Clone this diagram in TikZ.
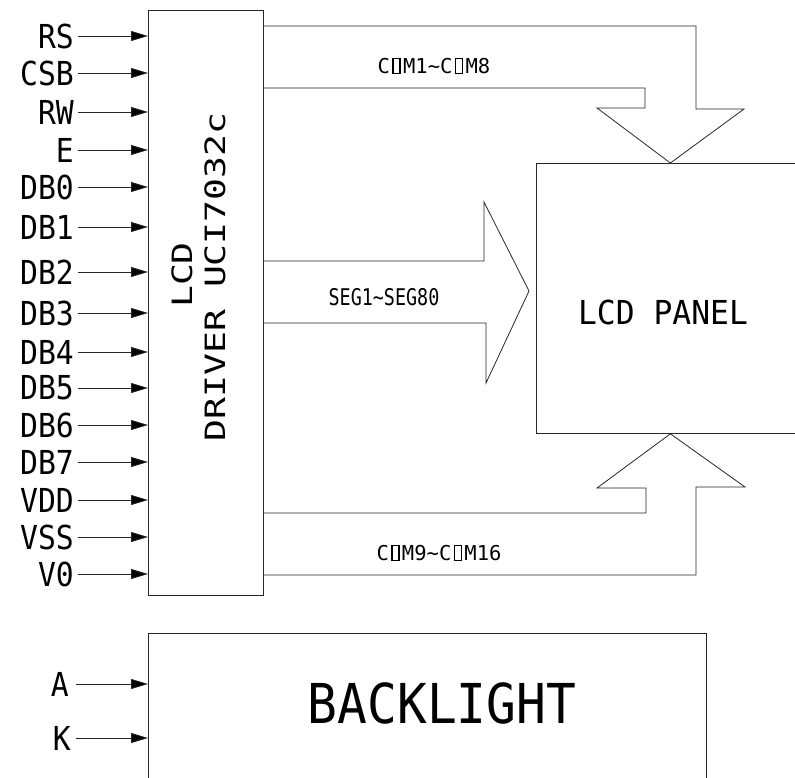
\documentclass[tikz,border=0pt]{standalone}
\usepackage{fontspec}
\setmainfont{DejaVu Sans Mono}
\usetikzlibrary{arrows.meta}
\newcommand\cadf[2]{\fontsize{#1}{#1}\selectfont\addfontfeature{FakeStretch=#2}}
\newcommand\obx{\kern0.12em{\fboxsep=0pt\fboxrule=0.06em\fbox{\rule{0pt}{0.7em}\hspace{0.28em}}}\kern0.12em}
\tikzset{
  ln/.style={line width=0.8pt, draw=black!85},
  inarr/.style={ln, -{Triangle[length=17pt,width=10pt,fill=black]}},
  lab/.style={inner sep=0pt, anchor=east, font=\cadf{33}{0.9}},
  boxn/.style={ln, draw, inner sep=0pt, anchor=north west},
  txt/.style={inner sep=0pt}
}
\begin{document}
\begin{tikzpicture}[x=1pt,y=-1pt]
\useasboundingbox (0,0) rectangle (795,778);
% driver box
\node[boxn, minimum width=115pt, minimum height=585pt] (drv) at (148,10) {};
\node[txt, rotate=90, font=\cadf{28}{1.3}] (drvA) at (182,275) {LCD};
\node[txt, rotate=90, font=\cadf{28}{1.3}] (drvB) at (215,277) {DRIVER UCI7032c};
% inputs
\foreach \n/\t/\y in {rs/RS/36, csb/CSB/73, rw/RW/112, e/E/150, db0/DB0/187, db1/DB1/227,
  db2/DB2/272, db3/DB3/313, db4/DB4/352, db5/DB5/388, db6/DB6/425, db7/DB7/462,
  vdd/VDD/500, vss/VSS/537, vo/V0/574}{
  \node[lab] (l\n) at (74,\y) {\t};
  \coordinate (s\n) at (78,\y);
  \draw[inarr] (s\n) -- (s\n -| drv.west);
}
% LCD panel
\node[boxn, minimum width=268pt, minimum height=270pt] (panel) at (536,163) {};
\node[txt, font=\cadf{33}{0.95}] (ptxt) at (663,312) {LCD PANEL};
% COM1~COM8 arrow
\coordinate (c1a) at (263,26);
\coordinate (c1b) at (696,109);
\coordinate (c1c) at (744,109);
\coordinate (c1d) at (597,108);
\coordinate (c1e) at (645,108);
\coordinate (c1f) at (263,88);
\draw[ln] (c1a) -| (c1b) -- (c1c) -- (panel.north) -- (c1d) -- (c1e) |- (c1f);
\node[txt, font=\cadf{20.5}{1.0}] (com1) at (434,66) {C\obx M1\char`\~C\obx M8};
% SEG arrow
\coordinate (sa) at (263,261);
\coordinate (sb) at (484,261);
\coordinate (sc) at (484,202);
\coordinate (sd) at (529,291);
\coordinate (se) at (486,383);
\coordinate (sf) at (486,323);
\coordinate (sg) at (263,323);
\draw[ln] (sa) -- (sb) -- (sc) -- (sd) -- (se) -- (sf) -- (sg);
\node[txt, font=\cadf{23}{0.8}] (seg) at (384,297) {SEG1\char`\~SEG80};
% COM9~COM16 arrow
\coordinate (c2a) at (263,575);
\coordinate (c2b) at (696,487);
\coordinate (c2c) at (745,487);
\coordinate (c2d) at (597,488);
\coordinate (c2e) at (646,488);
\coordinate (c2f) at (263,513);
\draw[ln] (c2a) -| (c2b) -- (c2c) -- (panel.south) -- (c2d) -- (c2e) |- (c2f);
\node[txt, font=\cadf{20.5}{1.0}] (com2) at (439,553) {C\obx M9\char`\~C\obx M16};
% backlight
\node[boxn, minimum width=558pt, minimum height=160pt] (bl) at (148,633) {};
\node[txt, font=\cadf{55}{0.9}] (bltxt) at (442,703) {BACKLIGHT};
\node[lab] (la) at (69,684) {A};
\node[lab] (lk) at (71,738) {K};
\coordinate (sa2) at (76,684);
\coordinate (sk2) at (76,738);
\draw[inarr] (sa2) -- (sa2 -| bl.west);
\draw[inarr] (sk2) -- (sk2 -| bl.west);
\end{tikzpicture}
\end{document}
